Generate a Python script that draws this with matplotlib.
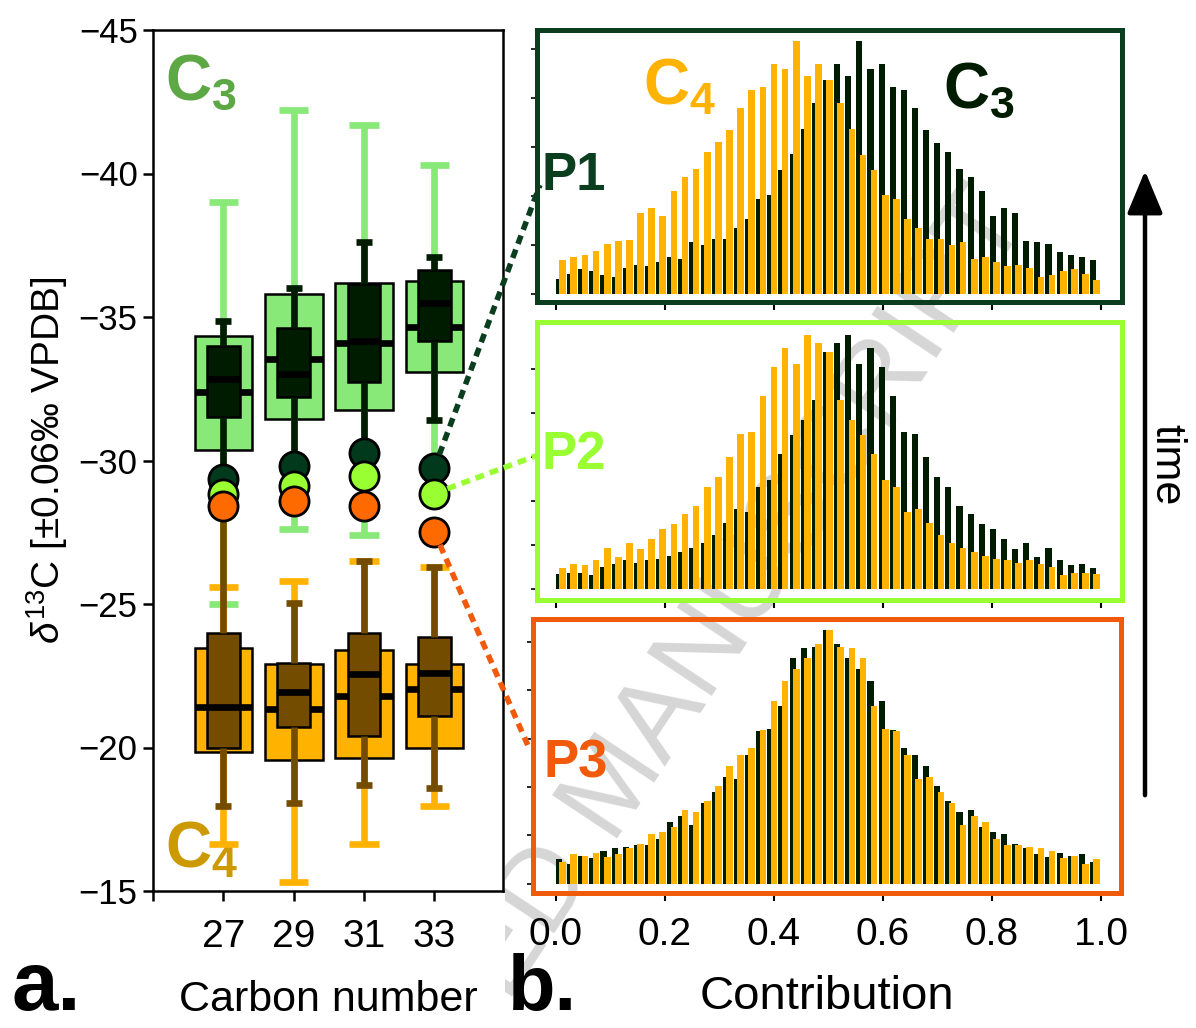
import numpy as np
import matplotlib.pyplot as plt
from matplotlib.patches import ConnectionPatch, FancyArrowPatch, Rectangle

plt.rcParams['font.family'] = ['Liberation Sans', 'DejaVu Sans']
plt.rcParams['mathtext.fontset'] = 'custom'
plt.rcParams['mathtext.rm'] = 'Liberation Sans'
plt.rcParams['mathtext.it'] = 'Liberation Sans:italic'
plt.rcParams['mathtext.bf'] = 'Liberation Sans:bold'

# --- panel a: d13C of n-alkanes ---------------------------------
carbon = [27, 29, 31, 33]

# C3 end member, wide box (outer) and narrow box (inner)
c3w_lo = [-39.0, -42.2, -41.7, -40.3]
c3w_q1 = [-34.35, -35.8, -36.2, -36.25]
c3w_med = [-32.4, -33.55, -34.1, -34.65]
c3w_q3 = [-30.35, -31.45, -31.75, -33.1]
c3w_hi = [-25.0, -27.6, -27.4, -29.8]

c3n_lo = [-34.85, -36.0, -37.6, -37.1]
c3n_q1 = [-34.0, -34.6, -36.15, -36.65]
c3n_med = [-32.85, -33.0, -34.15, -35.5]
c3n_q3 = [-31.5, -32.2, -32.75, -34.15]
c3n_hi = [-29.4, -29.8, -30.2, -31.4]

# C4 end member
c4w_lo = [-25.6, -25.8, -26.5, -26.3]
c4w_q1 = [-23.45, -22.9, -23.4, -22.9]
c4w_med = [-21.4, -21.35, -21.8, -22.05]
c4w_q3 = [-19.85, -19.55, -19.65, -20.0]
c4w_hi = [-16.65, -15.3, -16.65, -17.95]

c4n_lo = [-28.6, -25.05, -26.5, -26.3]
c4n_q1 = [-24.0, -22.95, -24.0, -23.85]
c4n_med = [-21.4, -21.95, -22.55, -22.6]
c4n_q3 = [-20.0, -20.7, -20.4, -21.1]
c4n_hi = [-17.95, -18.05, -18.7, -18.6]

# samples
p1_vals = [-29.35, -29.8, -30.25, -29.75]
p2_vals = [-28.85, -29.1, -29.45, -28.85]
p3_vals = [-28.4, -28.6, -28.4, -27.5]

# --- panel b: contribution histograms (49 bins over 0-1) -------
p1_c3 = [5.9, 8.2, 10, 9.2, 7.6, 7, 10.3, 11.6, 11.3, 12.8, 14.7, 13.9, 20.8, 19.5, 22, 22,
         26.3, 29.9, 37.8, 39.2, 49.3, 55.4, 65.3, 75.7, 84.9, 91.1, 86.2, 100, 89.2, 91.1,
         82, 80.8, 73.6, 64.9, 60, 56.4, 49.5, 46.3, 40.8, 30.9, 34.2, 32, 21.3, 20.9, 19.9,
         16.8, 15.4, 14.7, 13.6]
p1_c4 = [13.6, 14.9, 15.4, 17, 19.9, 21.1, 21.4, 32, 34.3, 30.9, 40.9, 46.4, 49.5, 56.4, 60.1,
         64.9, 73.7, 80.9, 82, 91.2, 89.2, 100, 86.3, 91.2, 84.9, 75.5, 65.3, 55.1, 49.1, 39.1,
         37.6, 29.7, 26.2, 21.8, 21.8, 19.5, 20.7, 13.9, 14.6, 12.8, 11.2, 11.6, 10.3, 7, 7.6,
         9.1, 10, 8, 5.7]
p2_c3 = [5.8, 6.2, 6.3, 5.4, 8.6, 9.7, 11.3, 10.1, 11.3, 11.7, 12.9, 14.3, 16.1, 18, 21.1, 26.1,
         31.4, 30.3, 40, 42.9, 53.2, 60.7, 66.8, 74.5, 93.6, 97.1, 100.3, 88.8, 95, 87.5, 76.1,
         61.8, 61.1, 52, 44.1, 40, 32.6, 29.5, 25.5, 23.4, 19.6, 15.5, 18, 12.5, 16.1, 11.3,
         9.3, 9.9, 8.2]
p2_c4 = [8.2, 9.9, 9.3, 11.3, 16.1, 12.5, 18, 15.5, 19.6, 23.4, 25.5, 29.5, 32.6, 40, 44.1, 52,
         61.1, 61.8, 76.1, 87.5, 95, 88.7, 100.3, 97.1, 93.6, 74.5, 66.8, 60.7, 53.2, 42.9, 40,
         30.3, 31.4, 26.1, 21.1, 18, 16.1, 14.5, 12.9, 11.7, 11.3, 10.1, 11.3, 9.7, 8.6, 5.4,
         6.3, 6.2, 5.8]
p3_c3 = [9.7, 7.8, 11.1, 10.3, 12.8, 14.1, 14.6, 15.4, 15.3, 17.5, 24.5, 26.7, 23.2, 31.8, 36.2,
         42.2, 41.3, 50.7, 60.4, 61.1, 70.1, 89.1, 93.2, 93.4, 100.1, 94.6, 89.1, 84.9, 80, 72.1,
         60.9, 53.6, 50.9, 46.4, 38.7, 32.8, 28.4, 29.1, 22.5, 20.4, 19.6, 15.7, 14.1, 11.7,
         10.4, 12.2, 10.8, 11.6, 8.4]
p3_c4 = [8.4, 11.6, 10.8, 12.2, 10.4, 11.7, 14.1, 15.7, 19.6, 20.4, 22.5, 29.1, 28.4, 32.8, 38.7,
         46.4, 50.8, 53.6, 60.9, 72.1, 80, 84.9, 89.1, 94.6, 100.1, 93.4, 93.2, 89.1, 70.1, 61.1,
         60.4, 50.7, 41.3, 42.2, 36.2, 31.8, 23.2, 26.7, 24.5, 17.5, 15.3, 15.4, 14.6, 14.1,
         12.8, 10.3, 11.1, 7.8, 9.7]

# colours
light_green = '#88E878'
dark_green = '#001C00'
orange = '#FFB300'
brown = '#734C00'
col_p1 = '#0B3D1F'
col_p2 = '#99FF33'
col_p3 = '#F05A0A'
circ_p1 = '#00391B'
circ_p3 = '#FF6A00'

W, H = 1196, 1028
fig = plt.figure(figsize=(W / 100, H / 100), dpi=100)


def px(x0, y0, x1, y1):
    return [x0 / W, 1 - y1 / H, (x1 - x0) / W, (y1 - y0) / H]


def make_stats(lo, q1, med, q3, hi):
    return [dict(whislo=a, q1=b, med=c, q3=d, whishi=e, fliers=[])
            for a, b, c, d, e in zip(lo, q1, med, q3, hi)]


def draw_boxes(ax, st, width, capw, fill, line, z):
    ax.bxp(st, positions=carbon, widths=width, capwidths=capw, patch_artist=True,
           showfliers=False, zorder=z,
           boxprops=dict(facecolor=fill, edgecolor='black', linewidth=1.8),
           whiskerprops=dict(color=line, linewidth=4.8, solid_capstyle='butt'),
           capprops=dict(color=line, linewidth=4.8, solid_capstyle='butt'),
           medianprops=dict(color='black', linewidth=4.8, solid_capstyle='butt'))


ax = fig.add_axes(px(153, 30, 503, 891))
draw_boxes(ax, make_stats(c3w_lo, c3w_q1, c3w_med, c3w_q3, c3w_hi), 1.64, 0.83, light_green, light_green, 2)
draw_boxes(ax, make_stats(c3n_lo, c3n_q1, c3n_med, c3n_q3, c3n_hi), 0.93, 0.46, dark_green, dark_green, 3)
draw_boxes(ax, make_stats(c4w_lo, c4w_q1, c4w_med, c4w_q3, c4w_hi), 1.64, 0.83, orange, orange, 4)
draw_boxes(ax, make_stats(c4n_lo, c4n_q1, c4n_med, c4n_q3, c4n_hi), 0.93, 0.46, brown, brown, 5)

ax.plot(carbon, p1_vals, 'o', ms=21, mfc=circ_p1, mec='black', mew=2, zorder=10)
ax.plot(carbon, p2_vals, 'o', ms=21, mfc=col_p2, mec='black', mew=2, zorder=11)
ax.plot(carbon, p3_vals, 'o', ms=21, mfc=circ_p3, mec='black', mew=2, zorder=12)

ax.set_xlim(25, 34.95)
ax.set_ylim(-15, -45)
ax.set_yticks(range(-45, -14, 5))
ax.set_xticks([25, 27, 29, 31, 33])
ax.set_xticklabels(['', '27', '29', '31', '33'])
ax.tick_params(axis='y', labelsize=25, length=7, width=1.8, direction='out', pad=4)
ax.tick_params(axis='x', labelsize=28, length=7, width=1.8, direction='out', pad=13)
for s in ax.spines.values():
    s.set_linewidth(1.8)
ax.set_ylabel(r'$\delta^{13}$C [±0.06‰ VPDB]', fontsize=28, labelpad=6)
ax.set_xlabel('Carbon number', fontsize=31, labelpad=18)

ax.text(0.035, 0.919, r'$\mathbf{C_3}$', transform=ax.transAxes, fontsize=46,
        color='#5DA845', va='baseline', ha='left')
ax.text(0.035, 0.027, r'$\mathbf{C_4}$', transform=ax.transAxes, fontsize=46,
        color='#CC9A00', va='baseline', ha='left')

# --- panel b ----------------------------------------------------
edges = np.linspace(0, 1, len(p1_c3) + 1)
bw = edges[1] - edges[0]
frames = [(537, 30, 1122, 302), (537, 322, 1122, 600), (533, 619, 1121, 893)]
ylims = [(-3.0, 104.5), (-4.5, 105.4), (-3.7, 104.6)]
tick_steps = [19.4, 17.4, 19.1]
series = [(p1_c3, p1_c4), (p2_c3, p2_c4), (p3_c3, p3_c4)]
fcols = [col_p1, col_p2, col_p3]
names = ['P1', 'P2', 'P3']
name_pos = [(0.008, 0.41), (0.008, 0.47), (0.018, 0.42)]

# data x 0 -> 556 px, 1 -> 1101 px
hax = []
for i, (x0, y0, x1, y1) in enumerate(frames):
    a = fig.add_axes(px(x0, y0, x1, y1))
    a.set_facecolor('none')
    c3, c4 = series[i]
    a.bar(edges[:-1], c3, width=0.55 * bw, align='edge', color=dark_green, zorder=2)
    a.bar(edges[:-1] + 0.3 * bw, c4, width=0.6 * bw, align='edge', color=orange, zorder=3)
    a.set_xlim((x0 - 556) / 545, (x1 - 556) / 545)
    a.set_ylim(*ylims[i])
    a.set_xticks(np.linspace(0, 1, 6))
    a.set_yticks(np.arange(6) * tick_steps[i])
    a.set_yticklabels([])
    if i < 2:
        a.set_xticklabels([])
    else:
        a.set_xticklabels(['0.0', '0.2', '0.4', '0.6', '0.8', '1.0'])
    a.tick_params(axis='x', labelsize=28, length=6, width=1.5, pad=11)
    a.tick_params(axis='y', length=4, width=1.2)
    for s in a.spines.values():
        s.set_linewidth(3.6)
        s.set_color(fcols[i])
        s.set_zorder(5)
    a.text(name_pos[i][0], name_pos[i][1], names[i], transform=a.transAxes, fontsize=38,
           fontweight='bold', color=fcols[i], va='baseline', ha='left', zorder=6)
    hax.append(a)

hax[0].text(0.181, 0.724, r'$\mathbf{C_4}$', transform=hax[0].transAxes, fontsize=46,
            color=orange, va='baseline', ha='left', zorder=6)
hax[0].text(0.694, 0.713, r'$\mathbf{C_3}$', transform=hax[0].transAxes, fontsize=46,
            color=dark_green, va='baseline', ha='left', zorder=6)
hax[2].set_xlabel('Contribution', fontsize=34, labelpad=16)

# dotted links from the C33 samples to the histograms
links = [(p1_vals[3], hax[0], (0.005, 0.43), col_p1),
         (p2_vals[3], hax[1], (0.0, 0.52), col_p2),
         (p3_vals[3], hax[2], (-0.009, 0.54), col_p3)]
for val, a, xyB, c in links:
    con = ConnectionPatch(xyA=(carbon[3], val), coordsA=ax.transData, xyB=xyB,
                          coordsB=a.transAxes, color=c, lw=4,
                          linestyle=(0, (1.6, 1.1)), shrinkA=10, shrinkB=0, zorder=20,
                          capstyle='butt')
    fig.add_artist(con)

# time arrow
fig.add_artist(FancyArrowPatch((1145 / W, 1 - 798 / H), (1145 / W, 1 - 168 / H),
                               transform=fig.transFigure, color='black', lw=3.2,
                               arrowstyle='-|>,head_length=1.2,head_width=0.5',
                               mutation_scale=22))
fig.text(1166 / W, 1 - 465 / H, 'time', rotation=-90, fontsize=31, ha='center', va='center')

# panel letters
fig.text(12 / W, 1 - 1010 / H, 'a.', fontsize=60, fontweight='bold', va='baseline')
fig.text(508 / W, 1 - 1010 / H, 'b.', fontsize=56, fontweight='bold', va='baseline')

# watermark behind the histograms
wm = fig.text(641 / W, 1 - 804 / H, 'ACCEPTED MANUSCRIPT', fontsize=82, color='#D6D6D6',
              rotation=56.4, rotation_mode='anchor', ha='center', va='baseline', zorder=-1)
clip = Rectangle((505 / W, 0), 1 - 505 / W, 1, transform=fig.transFigure)
wm.set_clip_path(clip)

fig.savefig('out.png', dpi=100)
